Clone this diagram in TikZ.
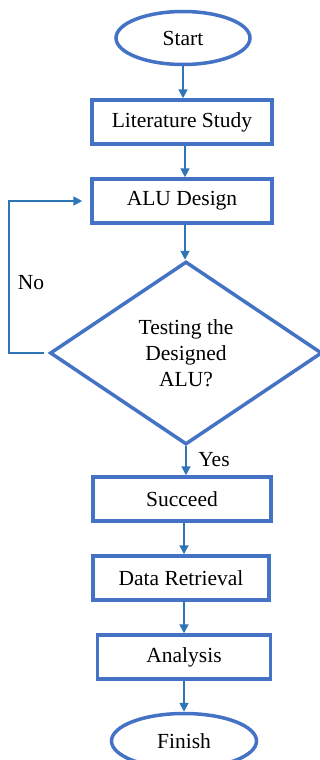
\documentclass[tikz,border=0pt]{standalone}
\usepackage{fontspec}
\setmainfont{Liberation Serif}
\definecolor{flujoBorde}{HTML}{4472C4}
\definecolor{flujoFlecha}{HTML}{2E75B6}
\usetikzlibrary{
	arrows.meta,
	shapes.geometric
}
\tikzset{
	terminal/.style={
		ellipse,
		draw=flujoBorde,
		line width=3.5pt,
		fill=white,
		align=center,
		inner sep=0pt,
		font=\fontsize{21.5}{26}\selectfont
	},
	proceso/.style={
		rectangle,
		draw=flujoBorde,
		line width=3.5pt,
		fill=white,
		align=center,
		inner sep=0pt,
		minimum height=44pt,
		font=\fontsize{21.5}{26}\selectfont
	},
	decision/.style={
		diamond,
		draw=flujoBorde,
		line width=3.5pt,
		fill=white,
		align=center,
		inner sep=0pt,
		aspect=1.48,
		minimum width=272pt,
		minimum height=183pt,
		font=\fontsize{21.5}{26}\selectfont
	},
	flecha/.style={
		-{Triangle[length=9pt,width=9pt]},
		line width=1.8pt,
		flujoFlecha
	},
	etiqueta/.style={
		inner sep=0pt,
		font=\fontsize{21.5}{26}\selectfont
	}
}
\begin{document}
\begin{tikzpicture}[x=1pt,y=-1pt]
		\useasboundingbox (0,0) rectangle (320,760);
		\node[terminal, minimum width=134pt, minimum height=53pt] (inicio) at (183,38) {Start};
		\node[proceso, minimum width=180pt] (literatura) at (182,122) {Literature Study};
		\node[proceso, minimum width=180pt] (diseno) at (182,201) {ALU Design};
		\node[decision] (prueba) at (186,353) {Testing the\\Designed\\ALU?};
		\node[proceso, minimum width=178pt] (exito) at (182,499) {Succeed};
		\node[proceso, minimum width=176pt] (datos) at (181,578) {Data Retrieval};
		\node[proceso, minimum width=173pt] (analisis) at (184,657) {Analysis};
		\node[terminal, minimum width=145pt, minimum height=55pt] (fin) at (184,741) {Finish};
		\coordinate (retorno) at (9,353);
		\node[etiqueta] (no) at (31,283) {No};
		\node[etiqueta] (si) at (214,460) {Yes};
		% conectores verticales
		\draw[flecha] (inicio.south) -- (inicio.south |- literatura.north);
		\draw[flecha] ([xshift=3pt]literatura.south) -- ([xshift=3pt]literatura.south |- diseno.north);
		\draw[flecha] ([xshift=3pt]diseno.south) -- ([xshift=3pt]diseno.south |- prueba.north);
		\draw[flecha] (prueba.south) -- (prueba.south |- exito.north);
		\draw[flecha] ([xshift=2pt]exito.south) -- ([xshift=2pt]exito.south |- datos.north);
		\draw[flecha] ([xshift=3pt]datos.south) -- ([xshift=3pt]datos.south |- analisis.north);
		\draw[flecha] (analisis.south) -- (analisis.south |- fin.north);
		\draw[flecha, shorten <=4pt, shorten >=8pt] (prueba.west) -- (retorno) |- (diseno.west);
	\end{tikzpicture}
\end{document}
